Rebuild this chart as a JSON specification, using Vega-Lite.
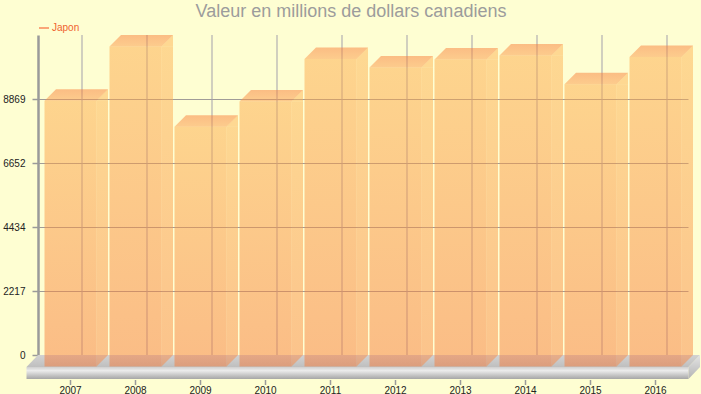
{
  "$schema": "https://vega.github.io/schema/vega-lite/v6.json",
  "width": 662,
  "height": 320,
  "autosize": "none",
  "padding": {"left": 38, "top": 35, "right": 1, "bottom": 39},
  "background": "#fefed2",
  "title": {
    "text": "Valeur en millions de dollars canadiens",
    "font": "Liberation Sans",
    "fontSize": 18,
    "fontWeight": "normal",
    "color": "#9c9c9c",
    "anchor": "middle",
    "frame": "group",
    "offset": 1,
    "dx": -18
  },
  "datasets": {
    "barres": [
      {"annee": "2007", "valeur": 9204},
      {"annee": "2008", "valeur": 11086},
      {"annee": "2009", "valeur": 8305},
      {"annee": "2010", "valeur": 9180},
      {"annee": "2011", "valeur": 10656},
      {"annee": "2012", "valeur": 10356},
      {"annee": "2013", "valeur": 10633},
      {"annee": "2014", "valeur": 10771},
      {"annee": "2015", "valeur": 9778},
      {"annee": "2016", "valeur": 10726}
    ],
    "sol": [{"niveau": 0}],
    "legende": [{"pays": "Japon", "annee": "2008", "valeur": 11086}]
  },
  "config": {
    "view": {"stroke": null},
    "font": "Liberation Sans"
  },
  "layer": [
    {
      "data": {"name": "barres"},
      "mark": {"type": "rule", "xOffset": 11.5, "color": "#a3a0ab", "strokeWidth": 1},
      "encoding": {
        "x": {"field": "annee", "type": "nominal", "title": null,
              "scale": {"type": "band", "range": [0, 650], "paddingInner": 0.2, "paddingOuter": 0.1}}
      }
    },
    {
      "data": {"name": "sol"},
      "mark": {"type": "point", "filled": true, "size": 4, "opacity": 1, "strokeWidth": 0,
               "shape": "M-331,0L331,0L319.5,12L-342.5,12Z",
               "fill": {"gradient": "linear", "x1": 0, "y1": 0, "x2": 0, "y2": 1,
                        "stops": [{"offset": 0, "color": "#d2d2d2"}, {"offset": 1, "color": "#bfbfbf"}]}},
      "encoding": {"y": {"field": "niveau", "type": "quantitative", "title": null}}
    },
    {
      "data": {"name": "sol"},
      "mark": {"type": "point", "filled": true, "size": 4, "opacity": 1, "strokeWidth": 0,
               "shape": "M-342.5,12L319.5,12L319.5,24L-342.5,24Z",
               "fill": {"gradient": "linear", "x1": 0, "y1": 0, "x2": 0, "y2": 1,
                        "stops": [{"offset": 0, "color": "#cfcfcf"}, {"offset": 0.3, "color": "#ececec"}, {"offset": 1, "color": "#a6a6a6"}]}},
      "encoding": {"y": {"field": "niveau", "type": "quantitative", "title": null}}
    },
    {
      "data": {"name": "sol"},
      "mark": {"type": "point", "filled": true, "size": 4, "opacity": 1, "strokeWidth": 0,
               "shape": "M319.5,12L331,0L331,12L319.5,24Z",
               "fill": {"gradient": "linear", "x1": 0, "y1": 0, "x2": 0, "y2": 1,
                        "stops": [{"offset": 0, "color": "#e4e4e4"}, {"offset": 1, "color": "#b4b4b4"}]}},
      "encoding": {"y": {"field": "niveau", "type": "quantitative", "title": null}}
    },
    {
      "data": {"name": "barres"},
      "mark": {"type": "bar", "yOffset": 11.5, "y2Offset": 11.5, "fillOpacity": 0.5, "strokeWidth": 0,
               "fill": {"gradient": "linear", "x1": 0, "y1": 0, "x2": 0, "y2": 1,
                        "stops": [{"offset": 0, "color": "#fdab4a"}, {"offset": 1, "color": "#f77b3a"}]}},
      "encoding": {
        "x": {"field": "annee", "type": "nominal", "title": null,
              "axis": {"title": null, "domain": false, "offset": 24.5, "tickSize": 5, "tickColor": "#9a9a9a",
                       "tickWidth": 1.5, "labelAngle": 0, "labelAlign": "center", "labelBaseline": "top",
                       "labelFontSize": 10, "labelColor": "#222222",
                       "labelPadding": 1, "labelFont": "Liberation Sans", "grid": false}},
        "y": {"field": "valeur", "type": "quantitative", "title": null,
              "scale": {"domain": [0, 11086], "nice": false, "zero": true},
              "axis": {"title": null, "values": [0, 2217.2, 4434.4, 6651.6, 8868.8], "format": "d",
                       "grid": true, "gridColor": "#a09c98", "gridWidth": 1,
                       "domain": true, "domainColor": "#9a9a9a", "domainWidth": 2.5,
                       "tickSize": 6, "tickColor": "#9a9a9a", "tickWidth": 1.5,
                       "labelFontSize": 10, "labelColor": "#222222", "labelPadding": 7,
                       "labelFont": "Liberation Sans"}},
        "y2": {"datum": 0}
      }
    },
    {
      "data": {"name": "barres"},
      "mark": {"type": "bar", "width": 11.5, "xOffset": 31.75, "yOffset": 11.5, "fillOpacity": 0.5, "strokeWidth": 0,
               "fill": {"gradient": "linear", "x1": 0, "y1": 0, "x2": 0, "y2": 1,
                        "stops": [{"offset": 0, "color": "#fdb252"}, {"offset": 1, "color": "#f98a46"}]}},
      "encoding": {
        "x": {"field": "annee", "type": "nominal", "title": null},
        "y": {"field": "valeur", "type": "quantitative", "title": null},
        "y2": {"datum": 0}
      }
    },
    {
      "data": {"name": "barres"},
      "mark": {"type": "point", "filled": true, "size": 4, "opacity": 0.5, "strokeWidth": 0,
               "shape": "M26,11.5L37.5,0L37.5,11.5Z", "fill": "#fdb252"},
      "encoding": {
        "x": {"field": "annee", "type": "nominal", "title": null},
        "y": {"field": "valeur", "type": "quantitative", "title": null}
      }
    },
    {
      "data": {"name": "barres"},
      "mark": {"type": "point", "filled": true, "size": 4, "opacity": 0.5, "strokeWidth": 0,
               "shape": "M26,0L37.5,0L26,11.5Z", "fill": "#f98a46"},
      "encoding": {
        "x": {"field": "annee", "type": "nominal", "title": null},
        "y": {"datum": 0, "title": null}
      }
    },
    {
      "data": {"name": "barres"},
      "mark": {"type": "point", "filled": true, "size": 4, "opacity": 0.5, "strokeWidth": 0,
               "shape": "M-14.5,0L37.5,0L26,11.5L-26,11.5Z",
               "fill": {"gradient": "linear", "x1": 0, "y1": 0, "x2": 0, "y2": 1,
                        "stops": [{"offset": 0, "color": "#f87c36"}, {"offset": 1, "color": "#fb9a48"}]}},
      "encoding": {
        "x": {"field": "annee", "type": "nominal", "title": null},
        "y": {"field": "valeur", "type": "quantitative", "title": null}
      }
    },
    {
      "data": {"name": "legende"},
      "mark": {"type": "line", "strokeWidth": 1.5},
      "encoding": {
        "x": {"field": "annee", "type": "nominal", "title": null},
        "y": {"field": "valeur", "type": "quantitative", "title": null},
        "color": {"field": "pays", "type": "nominal",
                  "scale": {"range": ["#f9895a"]},
                  "legend": {"title": null, "orient": "none", "legendX": 0, "legendY": -13,
                             "symbolType": "stroke", "symbolSize": 100, "symbolStrokeWidth": 1.5,
                             "labelFontSize": 10, "labelColor": "#f0622e", "labelOffset": 2,
                             "labelFont": "Liberation Sans", "padding": 0}}
      }
    }
  ]
}
